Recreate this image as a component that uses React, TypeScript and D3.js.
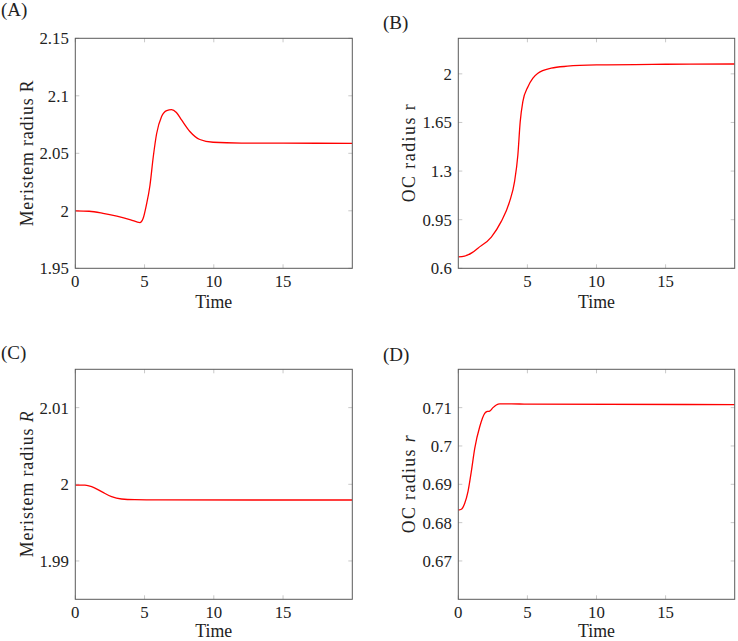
import React from "react";
import * as d3 from "d3";

// ---- Data ----
const timeA = [0, 1, 2, 3, 4, 4.67, 4.9, 5.14, 5.39, 5.63, 5.87, 6.23, 6.6, 6.95, 7.3, 7.67, 8.27, 8.99, 9.95, 12, 15, 20];
const valuesA = [2.0, 1.9996, 1.9978, 1.9953, 1.9922, 1.9898, 1.9935, 2.0055, 2.022, 2.047, 2.067, 2.082, 2.0872, 2.088, 2.0855, 2.079, 2.069, 2.062, 2.0596, 2.0589, 2.0588, 2.0587];

const timeB = [0, 0.45, 1.0, 1.42, 2.39, 3.1, 3.71, 4.07, 4.31, 4.48, 4.67, 5.04, 5.4, 5.76, 6.72, 7.9, 10, 15, 20];
const valuesB = [0.682, 0.687, 0.713, 0.745, 0.825, 0.936, 1.08, 1.224, 1.416, 1.656, 1.8, 1.908, 1.97, 2.005, 2.041, 2.055, 2.064, 2.069, 2.071];

const timeC = [0, 0.7, 1.18, 1.9, 2.62, 3.34, 4.3, 6, 20];
const valuesC = [1.9999, 1.99988, 1.99969, 1.99904, 1.99838, 1.99808, 1.99799, 1.99796, 1.99795];

const timeD = [0, 0.22, 0.46, 0.7, 0.94, 1.19, 1.55, 1.91, 2.1, 2.27, 2.51, 2.75, 3.0, 3.84, 5, 20];
const valuesD = [0.6833, 0.6835, 0.685, 0.6881, 0.6933, 0.6994, 0.705, 0.7085, 0.709, 0.7091, 0.71, 0.7107, 0.711, 0.711, 0.7109, 0.7108];

const xTicksA = [0, 5, 10, 15];
const xTicksB = [5, 10, 15];
const xTicksC = [0, 5, 10, 15];
const xTicksD = [0, 5, 10, 15];

const yTicksA = [1.95, 2, 2.05, 2.1, 2.15];
const yTicksB = [0.6, 0.95, 1.3, 1.65, 2];
const yTicksC = [1.99, 2, 2.01];
const yTicksD = [0.67, 0.68, 0.69, 0.7, 0.71];

const yDomainA = [1.95, 2.15];
const yDomainB = [0.6, 2.256];
const yDomainC = [1.985, 2.015];
const yDomainD = [0.66, 0.72];
const xDomain = [0, 20];

// ---- Layout ----
const FONT = "Liberation Serif, DejaVu Serif, Tinos, Times New Roman, serif";
const FS_TICK = 16.8;
const FS_LABEL = 17.8;
const FS_TAG = 19;

type PanelSpec = {
  tag: string;
  ylabel: string;
  italicVar: string | null;
  plainVar: string | null;
  t: number[];
  v: number[];
  xTicks: number[];
  yTicks: number[];
  yDomain: number[];
  left: number; right: number; top: number; bottom: number;
  tagX: number; tagY: number;
  ylabX: number; ylabLen: number;
};

const panels: PanelSpec[] = [
  { tag: "(A)", ylabel: "Meristem radius ", italicVar: null, plainVar: "R", t: timeA, v: valuesA, xTicks: xTicksA, yTicks: yTicksA, yDomain: yDomainA,
    left: 75.3, right: 352.3, top: 38.3, bottom: 268.3, tagX: 1, tagY: 15.5, ylabX: 32.8, ylabLen: 146 },
  { tag: "(B)", ylabel: "OC radius ", italicVar: null, plainVar: "r", t: timeB, v: valuesB, xTicks: xTicksB, yTicks: yTicksB, yDomain: yDomainB,
    left: 458.3, right: 734.7, top: 38.3, bottom: 268.3, tagX: 383, tagY: 29, ylabX: 414.5, ylabLen: 98 },
  { tag: "(C)", ylabel: "Meristem radius ", italicVar: "R", plainVar: null, t: timeC, v: valuesC, xTicks: xTicksC, yTicks: yTicksC, yDomain: yDomainC,
    left: 75.3, right: 352.3, top: 369.3, bottom: 599.3, tagX: 1, tagY: 359, ylabX: 32.8, ylabLen: 146 },
  { tag: "(D)", ylabel: "OC radius ", italicVar: "r", plainVar: null, t: timeD, v: valuesD, xTicks: xTicksD, yTicks: yTicksD, yDomain: yDomainD,
    left: 458.3, right: 734.7, top: 369.3, bottom: 599.3, tagX: 383, tagY: 361, ylabX: 414.5, ylabLen: 98 },
];

function fmt(v: number): string {
  return String(+v.toFixed(4));
}

function Panel({ p }: { p: PanelSpec }) {
  const x = d3.scaleLinear().domain(xDomain).range([p.left, p.right]);
  const y = d3.scaleLinear().domain(p.yDomain).range([p.bottom, p.top]);
  const pts = p.t.map((t, i) => [t, p.v[i]] as [number, number]);
  const line = d3.line<[number, number]>()
    .x((d) => x(d[0]))
    .y((d) => y(d[1]))
    .curve(d3.curveMonotoneX);
  const tickLen = 4;
  const tickColor = "#c8c8c8";
  const cx = (p.left + p.right) / 2;
  const cy = (p.top + p.bottom) / 2;
  const clipId = "clip" + p.tag.replace(/[()]/g, "");
  const timeY = Math.min(p.bottom + 39.8, 637);
  return (
    <g>
      <defs>
        <clipPath id={clipId}>
          <rect x={p.left} y={p.top} width={p.right - p.left} height={p.bottom - p.top} />
        </clipPath>
      </defs>
      {p.xTicks.map((t) => (
        <g key={"xt" + t}>
          <line x1={x(t)} x2={x(t)} y1={p.bottom} y2={p.bottom - tickLen} stroke={tickColor} strokeWidth={1} />
          <line x1={x(t)} x2={x(t)} y1={p.top} y2={p.top + tickLen} stroke={tickColor} strokeWidth={1} />
        </g>
      ))}
      {p.yTicks.map((t) => (
        <g key={"yt" + t}>
          <line x1={p.left} x2={p.left + tickLen} y1={y(t)} y2={y(t)} stroke={tickColor} strokeWidth={1} />
          <line x1={p.right} x2={p.right - tickLen} y1={y(t)} y2={y(t)} stroke={tickColor} strokeWidth={1} />
        </g>
      ))}
      <path d={line(pts) || ""} fill="none" stroke="#ff0000" strokeWidth={1.3} clipPath={`url(#${clipId})`} />
      <rect x={p.left} y={p.top} width={p.right - p.left} height={p.bottom - p.top} fill="none" stroke="#5a5a5a" strokeWidth={1} />
      {p.xTicks.map((t) => (
        <text key={"xl" + t} x={x(t)} y={p.bottom + 18.5} textAnchor="middle" fontFamily={FONT} fontSize={FS_TICK} fill="#222">{fmt(t)}</text>
      ))}
      {p.yTicks.map((t) => (
        <text key={"yl" + t} x={p.left - 6.5} y={y(t) + 5.9} textAnchor="end" fontFamily={FONT} fontSize={FS_TICK} fill="#222">{fmt(t)}</text>
      ))}
      <text x={cx} y={timeY} textAnchor="middle" fontFamily={FONT} fontSize={FS_LABEL} fill="#222">Time</text>
      <text transform={`translate(${p.ylabX},${cy}) rotate(-90)`} textAnchor="middle" fontFamily={FONT} fontSize={FS_LABEL} fill="#222"
        textLength={p.ylabLen} lengthAdjust="spacing">
        {p.ylabel}
        {p.plainVar ? <tspan>{p.plainVar}</tspan> : null}
        {p.italicVar ? <tspan fontStyle="italic">{p.italicVar}</tspan> : null}
      </text>
      <text x={p.tagX} y={p.tagY} fontFamily={FONT} fontSize={FS_TAG} fill="#222">{p.tag}</text>
    </g>
  );
}

export default function App() {
  return (
    <svg width={738} height={641} style={{ position: "absolute", left: 0, top: 0, background: "#fff" }}>
      <rect x={0} y={0} width={738} height={641} fill="#fff" />
      {panels.map((p) => (
        <Panel key={p.tag} p={p} />
      ))}
    </svg>
  );
}
